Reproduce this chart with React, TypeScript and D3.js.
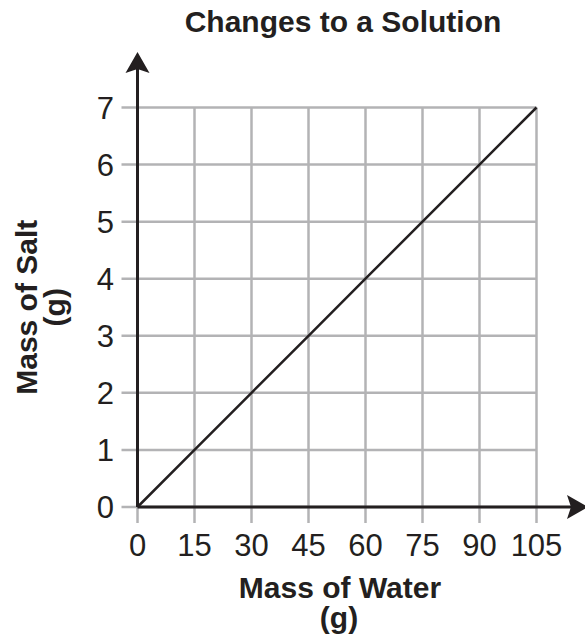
import React from "react";
import * as d3 from "d3";

// chart data
const waterTicks = [0, 15, 30, 45, 60, 75, 90, 105];
const saltTicks = [0, 1, 2, 3, 4, 5, 6, 7];
const waterValues = [0, 15, 30, 45, 60, 75, 90, 105];
const saltValues = [0, 1, 2, 3, 4, 5, 6, 7];

const title = "Changes to a Solution";
const xLabel = ["Mass of Water", "(g)"];
const yLabel = ["Mass of Salt", "(g)"];

const W = 585;
const H = 641;
const FONT = "'Liberation Sans', Arial, Helvetica, sans-serif";
const INK = "#231f20";
const GRID = "#b3b3b5";

export default function App() {
  const x = d3.scaleLinear().domain([0, 105]).range([137.5, 536.5]);
  const y = d3.scaleLinear().domain([0, 7]).range([507, 107.5]);

  const x0 = x(0);
  const y0 = y(0);
  const stub = 16;

  const line = d3
    .line<number>()
    .x((d, i) => x(waterValues[i]))
    .y((d, i) => y(saltValues[i]));

  // arrow heads (slightly notched back)
  const upTip = 52;
  const upArrow = `M${x0},${upTip} L${x0 + 12},${upTip + 21} L${x0},${upTip + 17} L${x0 - 12},${upTip + 21} Z`;
  const rightTip = 588;
  const rightArrow = `M${rightTip},${y0} L${rightTip - 21},${y0 - 12} L${rightTip - 17},${y0} L${rightTip - 21},${y0 + 12} Z`;

  return (
    <div style={{ position: "absolute", left: 0, top: 0 }}>
      <svg width={W} height={H} style={{ display: "block" }}>
        <rect width={W} height={H} fill="#fff" />

        {/* grid */}
        <g stroke={GRID} strokeWidth={2.5}>
          {waterTicks.map((t) => (
            <line key={"v" + t} x1={x(t)} x2={x(t)} y1={y(7)} y2={y0 + stub} />
          ))}
          {saltTicks.map((t) => (
            <line key={"h" + t} x1={x0 - stub} x2={x(105)} y1={y(t)} y2={y(t)} />
          ))}
        </g>

        {/* axes */}
        <g stroke={INK} strokeWidth={3}>
          <line x1={x0} x2={x0} y1={y0} y2={upTip + 14} />
          <line x1={x0} x2={rightTip - 14} y1={y0} y2={y0} />
        </g>
        <path d={upArrow} fill={INK} />
        <path d={rightArrow} fill={INK} />

        {/* data line */}
        <path d={line(saltValues) || ""} fill="none" stroke={INK} strokeWidth={2.5} />

        {/* tick labels */}
        <g fontFamily={FONT} fontSize={31} fill={INK}>
          {saltTicks.map((t) => (
            <text key={"yl" + t} x={114} y={y(t)} dy="0.36em" textAnchor="end">
              {t}
            </text>
          ))}
          {waterTicks.map((t) => (
            <text key={"xl" + t} x={x(t)} y={556} textAnchor="middle">
              {t}
            </text>
          ))}
        </g>

        {/* title and axis titles */}
        <g fontFamily={FONT} fontWeight="bold" fontSize={30} fill={INK} textAnchor="middle">
          <text x={343} y={32}>{title}</text>
          <text x={340} y={598}>{xLabel[0]}</text>
          <text x={339} y={628}>{xLabel[1]}</text>
          <g transform={`translate(37,${(y(0) + y(7)) / 2}) rotate(-90)`}>
            <text x={0} y={0}>{yLabel[0]}</text>
            <text x={0} y={28}>{yLabel[1]}</text>
          </g>
        </g>
      </svg>
    </div>
  );
}
